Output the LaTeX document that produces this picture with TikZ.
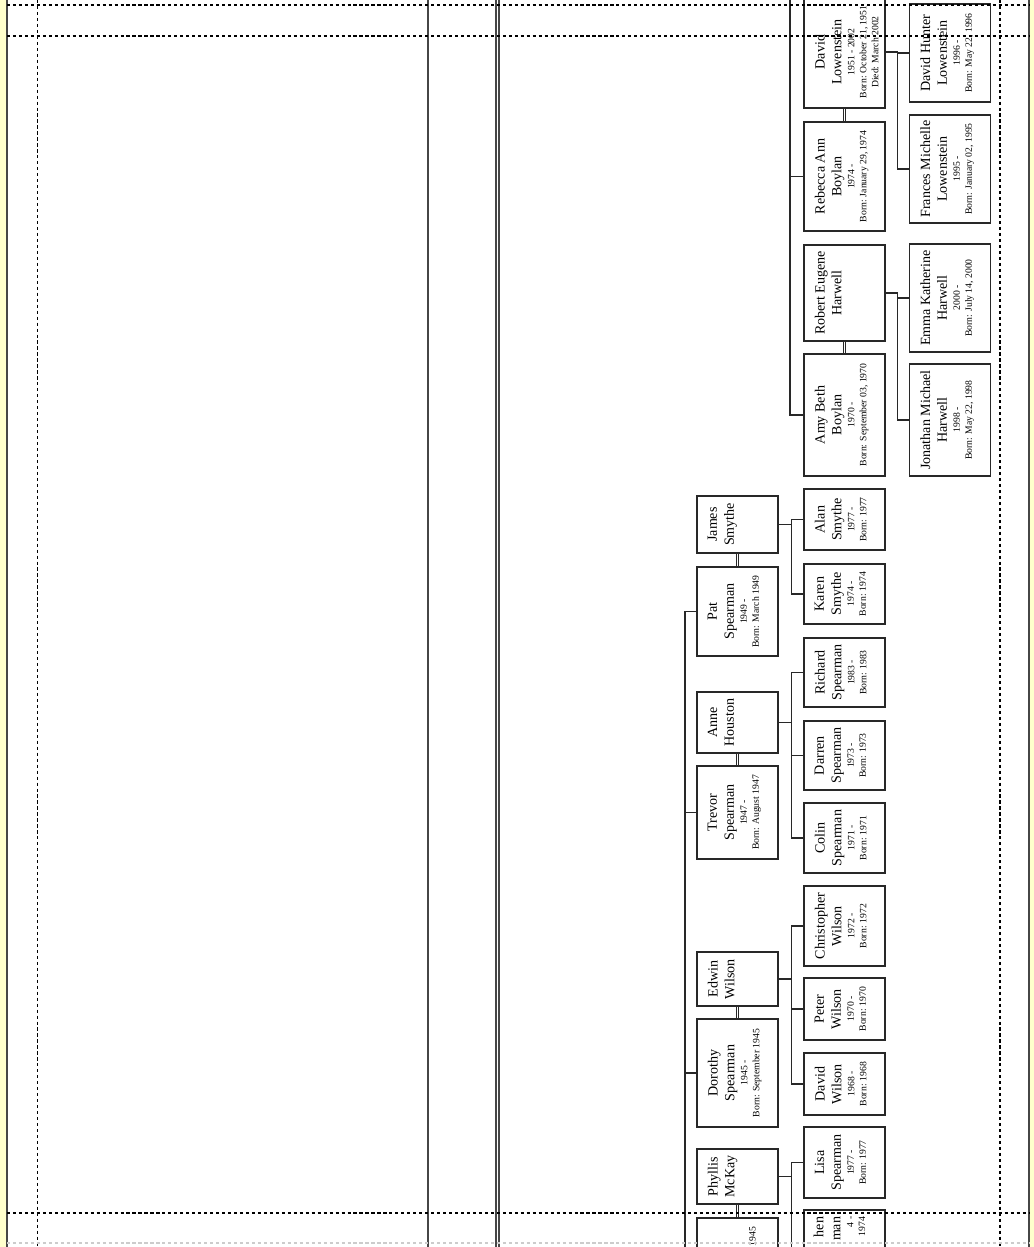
\documentclass[tikz,border=0pt]{standalone}
\usepackage{fontspec}
\setmainfont{Liberation Serif}
\usetikzlibrary{positioning, calc}
\usepackage{xcolor}
\definecolor{boxborder}{RGB}{40,40,40}
\definecolor{pageline}{RGB}{70,70,70}
\definecolor{sidecolor}{RGB}{255,255,204}
\tikzset{
    person/.style={rectangle, draw=boxborder, line width=0.7pt, minimum width=1.62cm, inner sep=0pt},
    who/.style={rotate=90, anchor=north, align=center, inner sep=0pt, font=\fontsize{8}{9.6}\selectfont},
    link/.style={draw=boxborder, line width=0.7pt},
    wed/.style={draw=boxborder, line width=0.5pt, double, double distance=0.9pt},
    cut/.style={draw=black, line width=0.6pt, dash pattern=on 1.8pt off 1.6pt}
}
\newcommand{\yrs}[1]{{\fontsize{5.5}{6.8}\selectfont #1}}

\begin{document}
\begin{tikzpicture}[x=0.02cm, y=-0.02cm]

    \useasboundingbox (0,0) rectangle (1034,1247);
    \clip (0,0) rectangle (1034,1247);

    \fill[sidecolor] (0,0) rectangle (7,1247);
    \fill[sidecolor] (1030,0) rectangle (1034,1247);
    \foreach \x in {7,428,496,499,1029}
        \draw[pageline, line width=0.8pt] (\x,0) -- (\x,1247);

    % Spearman children and their spouses
    \node[person, minimum height=1.14cm] (james) at (737.5,524.5) {};
    \node[person, minimum height=1.78cm] (pat) at (737.5,611.5) {};
    \node[person, minimum height=1.22cm] (anne) at (737.5,722.5) {};
    \node[person, minimum height=1.86cm] (trevor) at (737.5,812.5) {};
    \node[person, minimum height=1.08cm] (edwin) at (737.5,979) {};
    \node[person, minimum height=2.16cm] (dorothy) at (737.5,1073) {};
    \node[person, minimum height=1.10cm] (phyllis) at (737.5,1176.5) {};
    \node[person, minimum height=1.64cm] (spear1) at (737.5,1259) {};

    \node[who] (james-t) at ([xshift=0.22cm]james.west) {James\\Smythe};
    \node[who] (pat-t) at ([xshift=0.22cm]pat.west) {Pat\\Spearman\\[-2.2pt]\yrs{1949 -}\\[-2.8pt]\yrs{Born: March 1949}};
    \node[who] (anne-t) at ([xshift=0.22cm]anne.west) {Anne\\Houston};
    \node[who] (trevor-t) at ([xshift=0.22cm]trevor.west) {Trevor\\Spearman\\[-2.2pt]\yrs{1947 -}\\[-2.8pt]\yrs{Born: August 1947}};
    \node[who] (edwin-t) at ([xshift=0.22cm]edwin.west) {Edwin\\Wilson};
    \node[who] (dorothy-t) at ([xshift=0.22cm]dorothy.west) {Dorothy\\Spearman\\[-2.2pt]\yrs{1945 -}\\[-2.8pt]\yrs{Born: September 1945}};
    \node[who] (phyllis-t) at ([xshift=0.22cm]phyllis.west) {Phyllis\\McKay};
    \node[who, anchor=east] (spear1-t) at ($(spear1.north)+(15,9)$) {\yrs{1945}};

    % grandchildren and the Boylan sisters
    \node[person, minimum height=2.24cm] (davidl) at (844.5,52) {};
    \node[person, minimum height=2.18cm] (rebecca) at (844.5,176.5) {};
    \node[person, minimum height=1.92cm] (robert) at (844.5,293) {};
    \node[person, minimum height=2.44cm] (amy) at (844.5,415) {};
    \node[person, minimum height=1.22cm] (alan) at (844.5,519.5) {};
    \node[person, minimum height=1.20cm] (karen) at (844.5,594) {};
    \node[person, minimum height=1.38cm] (richard) at (844.5,672.5) {};
    \node[person, minimum height=1.38cm] (darren) at (844.5,755.5) {};
    \node[person, minimum height=1.40cm] (colin) at (844.5,838) {};
    \node[person, minimum height=1.60cm] (christopher) at (844.5,926) {};
    \node[person, minimum height=1.24cm] (peter) at (844.5,1009) {};
    \node[person, minimum height=1.24cm] (davidw) at (844.5,1084) {};
    \node[person, minimum height=1.42cm] (lisa) at (844.5,1162.5) {};
    \node[person, minimum height=1.80cm] (spear2) at (844.5,1255) {};

    \node[who] (davidl-t) at ([xshift=0.22cm]davidl.west) {David\\Lowenstein\\[-2.2pt]\yrs{1951 - 2002}\\[-2.8pt]\yrs{Born: October 21, 1951}\\[-2.8pt]\yrs{Died: March 2002}};
    \node[who] (rebecca-t) at ([xshift=0.22cm]rebecca.west) {Rebecca Ann\\Boylan\\[-2.2pt]\yrs{1974 -}\\[-2.8pt]\yrs{Born: January 29, 1974}};
    \node[who] (robert-t) at ([xshift=0.22cm]robert.west) {Robert Eugene\\Harwell};
    \node[who] (amy-t) at ([xshift=0.22cm]amy.west) {Amy Beth\\Boylan\\[-2.2pt]\yrs{1970 -}\\[-2.8pt]\yrs{Born: September 03, 1970}};
    \node[who] (alan-t) at ([xshift=0.22cm]alan.west) {Alan\\Smythe\\[-2.2pt]\yrs{1977 -}\\[-2.8pt]\yrs{Born: 1977}};
    \node[who] (karen-t) at ([xshift=0.22cm]karen.west) {Karen\\Smythe\\[-2.2pt]\yrs{1974 -}\\[-2.8pt]\yrs{Born: 1974}};
    \node[who] (richard-t) at ([xshift=0.22cm]richard.west) {Richard\\Spearman\\[-2.2pt]\yrs{1983 -}\\[-2.8pt]\yrs{Born: 1983}};
    \node[who] (darren-t) at ([xshift=0.22cm]darren.west) {Darren\\Spearman\\[-2.2pt]\yrs{1973 -}\\[-2.8pt]\yrs{Born: 1973}};
    \node[who] (colin-t) at ([xshift=0.22cm]colin.west) {Colin\\Spearman\\[-2.2pt]\yrs{1971 -}\\[-2.8pt]\yrs{Born: 1971}};
    \node[who] (christopher-t) at ([xshift=0.22cm]christopher.west) {Christopher\\Wilson\\[-2.2pt]\yrs{1972 -}\\[-2.8pt]\yrs{Born: 1972}};
    \node[who] (peter-t) at ([xshift=0.22cm]peter.west) {Peter\\Wilson\\[-2.2pt]\yrs{1970 -}\\[-2.8pt]\yrs{Born: 1970}};
    \node[who] (davidw-t) at ([xshift=0.22cm]davidw.west) {David\\Wilson\\[-2.2pt]\yrs{1968 -}\\[-2.8pt]\yrs{Born: 1968}};
    \node[who] (lisa-t) at ([xshift=0.22cm]lisa.west) {Lisa\\Spearman\\[-2.2pt]\yrs{1977 -}\\[-2.8pt]\yrs{Born: 1977}};
    \node[who, anchor=east, align=right] (spear2-t) at ($(spear2.north)+(-5,7)$) {hen\\man\\[-2.2pt]\yrs{4 -}\\[-2.8pt]\yrs{1974}};

    % great-grandchildren
    \node[person, minimum height=1.96cm] (davidh) at (950,53) {};
    \node[person, minimum height=2.16cm] (frances) at (950,169) {};
    \node[person, minimum height=2.16cm] (emma) at (950,298) {};
    \node[person, minimum height=2.24cm] (jonathan) at (950,420) {};

    \node[who] (davidh-t) at ([xshift=0.22cm]davidh.west) {David Hunter\\Lowenstein\\[-2.2pt]\yrs{1996 -}\\[-2.8pt]\yrs{Born: May 22, 1996}};
    \node[who] (frances-t) at ([xshift=0.22cm]frances.west) {Frances Michelle\\Lowenstein\\[-2.2pt]\yrs{1995 -}\\[-2.8pt]\yrs{Born: January 02, 1995}};
    \node[who] (emma-t) at ([xshift=0.22cm]emma.west) {Emma Katherine\\Harwell\\[-2.2pt]\yrs{2000 -}\\[-2.8pt]\yrs{Born: July 14, 2000}};
    \node[who] (jonathan-t) at ([xshift=0.22cm]jonathan.west) {Jonathan Michael\\Harwell\\[-2.2pt]\yrs{1998 -}\\[-2.8pt]\yrs{Born: May 22, 1998}};

    % couples
    \draw[wed] (davidl) -- (rebecca);
    \draw[wed] (robert) -- (amy);
    \draw[wed] (james) -- (pat);
    \draw[wed] (anne) -- (trevor);
    \draw[wed] (edwin) -- (dorothy);
    \draw[wed] (phyllis) -- (spear1);

    % parents to children
    \coordinate (boylantop) at (790,-10);
    \foreach \c in {rebecca,amy}
        \draw[link] (boylantop) |- (\c.west);
    \coordinate (spearbot) at (685,1270);
    \foreach \c in {pat,trevor,dorothy,spear1}
        \draw[link] (spearbot) |- (\c.west);

    \draw[link] (davidl.east) -- ++(0.24cm,0) coordinate (lowbus);
    \foreach \c in {davidh,frances}
        \draw[link] (lowbus) |- (\c.west);
    \draw[link] (robert.east) -- ++(0.24cm,0) coordinate (harbus);
    \foreach \c in {emma,jonathan}
        \draw[link] (harbus) |- (\c.west);
    \draw[link] (james.east) -- ++(0.26cm,0) coordinate (smybus);
    \foreach \c in {alan,karen}
        \draw[link] (smybus) |- (\c.west);
    \draw[link] (anne.east) -- ++(0.26cm,0) coordinate (trebus);
    \foreach \c in {richard,darren,colin}
        \draw[link] (trebus) |- (\c.west);
    \draw[link] (edwin.east) -- ++(0.26cm,0) coordinate (wilbus);
    \foreach \c in {christopher,peter,davidw}
        \draw[link] (wilbus) |- (\c.west);
    \draw[link] (phyllis.east) -- ++(0.26cm,0) coordinate (mckbus);
    \foreach \c in {lisa,spear2}
        \draw[link] (mckbus) |- (\c.west);

    % page breaks
    \foreach \y in {5,36,1213}
        \draw[cut] (7,\y) -- (1029,\y);
    \foreach \x in {37.5,1000}
        \draw[cut] (\x,0) -- (\x,1247);
    \draw[cut, draw=black!20] (7,1243) -- (1029,1243);

\end{tikzpicture}
\end{document}
